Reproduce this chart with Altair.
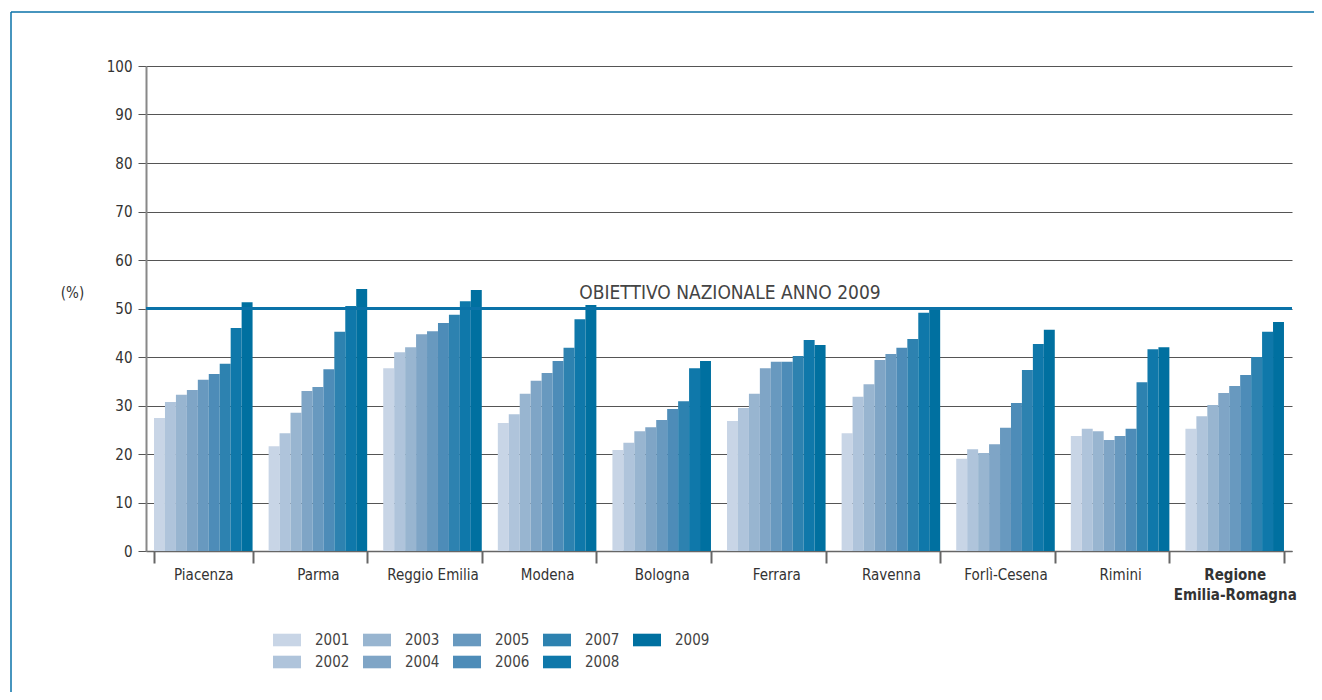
import altair as alt
import pandas as pd

provinces = ["Piacenza", "Parma", "Reggio Emilia", "Modena", "Bologna", "Ferrara",
             "Ravenna", "Forlì-Cesena", "Rimini", "Regione Emilia-Romagna"]
years = ["2001", "2002", "2003", "2004", "2005", "2006", "2007", "2008", "2009"]

values = {
    "Piacenza":               [27.4, 30.7, 32.2, 33.2, 35.3, 36.5, 38.6, 46.0, 51.3],
    "Parma":                  [21.6, 24.3, 28.5, 33.0, 33.8, 37.5, 45.2, 50.5, 54.0],
    "Reggio Emilia":          [37.7, 41.0, 42.0, 44.7, 45.3, 47.0, 48.7, 51.5, 53.8],
    "Modena":                 [26.4, 28.2, 32.4, 35.1, 36.7, 39.2, 41.9, 47.8, 50.7],
    "Bologna":                [20.8, 22.3, 24.7, 25.5, 27.0, 29.3, 30.9, 37.7, 39.2],
    "Ferrara":                [26.8, 29.5, 32.4, 37.7, 39.0, 39.0, 40.2, 43.5, 42.5],
    "Ravenna":                [24.3, 31.8, 34.4, 39.4, 40.6, 41.9, 43.7, 49.1, 50.3],
    "Forlì-Cesena":           [19.0, 21.0, 20.2, 22.0, 25.4, 30.5, 37.3, 42.7, 45.6],
    "Rimini":                 [23.7, 25.2, 24.7, 22.9, 23.7, 25.2, 34.8, 41.6, 42.0],
    "Regione Emilia-Romagna": [25.2, 27.8, 30.1, 32.6, 34.0, 36.3, 40.0, 45.2, 47.2],
}
colors = ["#c8d5e6", "#afc4db", "#98b5d0", "#7fa5c6", "#6899bf",
          "#4d8cb8", "#2d82b0", "#0f78aa", "#0070a0"]
target_value = 50
target_label = "OBIETTIVO NAZIONALE ANNO 2009"

rows = []
for p in provinces:
    for y, v in zip(years, values[p]):
        rows.append({"provincia": p, "anno": y, "valore": v})
df = pd.DataFrame(rows)

FONT = "DejaVu Sans Condensed"
W, H = 1146, 485

x_enc = alt.X(
    "provincia:N", sort=provinces, title=None,
    scale=alt.Scale(paddingInner=0.14, paddingOuter=0.07),
    axis=alt.Axis(
        labelAngle=0, tickBand="extent", tickSize=12, tickColor="#666",
        tickWidth=2, domainColor="#666", domainWidth=1.5, labelPadding=4,
        labelFontSize=15, labelColor="#333", labelFont=FONT,
        labelBaseline="top", labelLineHeight=20,
        labelExpr="datum.value == 'Regione Emilia-Romagna' ? ['Regione', 'Emilia-Romagna'] : datum.value",
        labelFontWeight={"condition": {"test": "datum.value == 'Regione Emilia-Romagna'", "value": "bold"}, "value": "normal"},
    ),
)

bars = alt.Chart(df).mark_bar(opacity=1).encode(
    x=x_enc,
    xOffset=alt.XOffset("anno:N", sort=years, scale=alt.Scale(paddingInner=0, paddingOuter=0)),
    y=alt.Y("valore:Q", scale=alt.Scale(domain=[0, 100]), title="(%)",
            axis=alt.Axis(values=list(range(0, 101, 10)), tickSize=8, tickColor="#555",
                          domainColor="#888", domainWidth=2, gridColor="#555", gridWidth=1.2,
                          labelFontSize=15, labelColor="#333", labelFont=FONT, labelPadding=6,
                          titleAngle=0, titleX=-74, titleY=226, titleAlign="center",
                          titleBaseline="middle", titleFontSize=15, titleFontWeight="normal",
                          titleColor="#333", titleFont=FONT)),
    color=alt.Color("anno:N", sort=years, scale=alt.Scale(domain=years, range=colors),
                    legend=alt.Legend(
                        title=None, orient="none", legendX=127, legendY=560,
                        columns=5,
                        symbolType="M-1,-0.45H1V0.45H-1Z", symbolSize=784,
                        symbolStrokeWidth=0, symbolOpacity=1,
                        labelFontSize=15, labelColor="#444", labelFont=FONT,
                        labelOffset=14, columnPadding=13, rowPadding=0)),
)

tdf = pd.DataFrame({"v": [target_value], "label": [target_label]})
rule = alt.Chart(tdf).mark_rule(color="#0a72a8", strokeWidth=3).encode(y="v:Q")
label = alt.Chart(tdf).mark_text(fontSize=19, color="#444", font=FONT, dy=-16,
                                 baseline="middle").encode(
    y="v:Q", x=alt.value(584), text="label:N")

# decorative outer frame of the figure panel (top and left edges)
frame_top = alt.Chart(tdf).mark_rule(color="#0a72a8", strokeWidth=1.5).encode(
    x=alt.value(-135), x2=alt.value(W + 60), y=alt.value(-54))
frame_left = alt.Chart(tdf).mark_rule(color="#0a72a8", strokeWidth=1.5).encode(
    x=alt.value(-135), y=alt.value(-54), y2=alt.value(H + 200))

chart = alt.layer(frame_top, frame_left, bars, rule, label).properties(
    width=W, height=H,
    autosize=alt.AutoSizeParams(type="none"),
    padding={"left": 138, "top": 58, "right": 22, "bottom": 141},
).configure_view(stroke=None).configure_axis(grid=True).configure_axisX(grid=False)

chart.save("out.html", embed_options={"renderer": "svg", "actions": False})
